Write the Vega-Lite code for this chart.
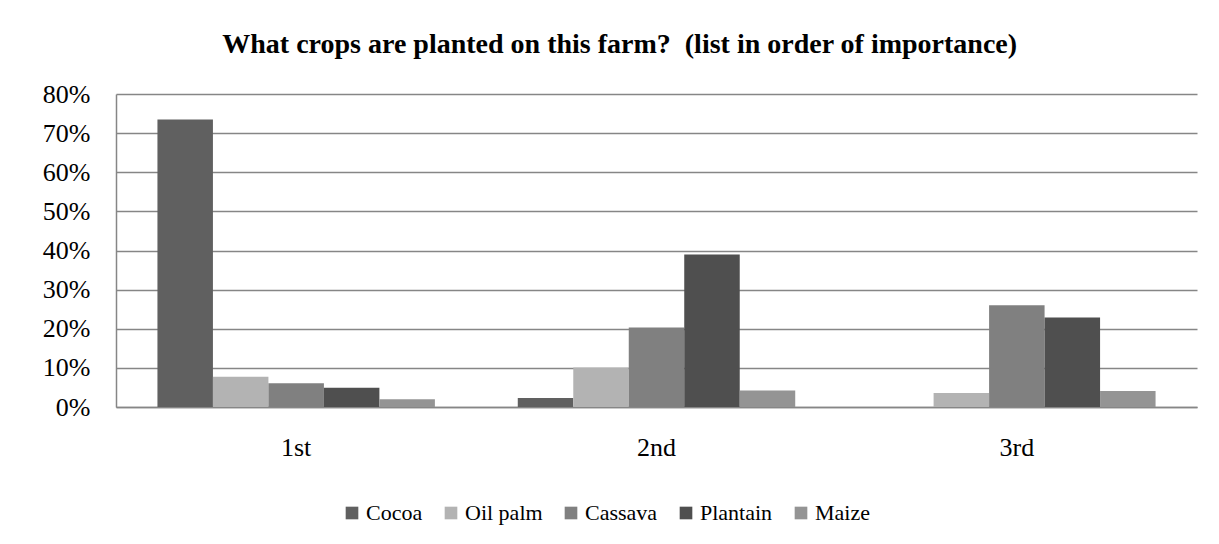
{
  "$schema": "https://vega.github.io/schema/vega-lite/v6.json",
  "width": 1081,
  "height": 313,
  "autosize": "none",
  "padding": {"left": 116, "top": 94, "right": 22, "bottom": 137},
  "background": "white",
  "title": {
    "text": "What crops are planted on this farm?\u00a0 (list in order of importance)",
    "font": "Liberation Serif",
    "fontSize": 28,
    "fontWeight": "bold",
    "color": "black",
    "anchor": "middle",
    "frame": "bounds",
    "offset": 22
  },
  "data": {
    "values": [
      {"rank": "1st", "crop": "Cocoa", "value": 0.735},
      {"rank": "1st", "crop": "Oil palm", "value": 0.077},
      {"rank": "1st", "crop": "Cassava", "value": 0.061},
      {"rank": "1st", "crop": "Plantain", "value": 0.049},
      {"rank": "1st", "crop": "Maize", "value": 0.020},
      {"rank": "2nd", "crop": "Cocoa", "value": 0.023},
      {"rank": "2nd", "crop": "Oil palm", "value": 0.101},
      {"rank": "2nd", "crop": "Cassava", "value": 0.203},
      {"rank": "2nd", "crop": "Plantain", "value": 0.390},
      {"rank": "2nd", "crop": "Maize", "value": 0.042},
      {"rank": "3rd", "crop": "Cocoa", "value": 0.0},
      {"rank": "3rd", "crop": "Oil palm", "value": 0.036},
      {"rank": "3rd", "crop": "Cassava", "value": 0.260},
      {"rank": "3rd", "crop": "Plantain", "value": 0.229},
      {"rank": "3rd", "crop": "Maize", "value": 0.041}
    ]
  },
  "mark": {"type": "bar"},
  "encoding": {
    "x": {
      "field": "rank",
      "type": "nominal",
      "sort": ["1st", "2nd", "3rd"],
      "scale": {"paddingInner": 0.23, "paddingOuter": 0.115},
      "axis": {
        "title": null,
        "labelAngle": 0,
        "labelFont": "Liberation Serif",
        "labelFontSize": 26,
        "labelColor": "black",
        "labelPadding": 27,
        "ticks": false,
        "domainColor": "#868686",
        "domainWidth": 1.5
      }
    },
    "xOffset": {
      "field": "crop",
      "type": "nominal",
      "sort": ["Cocoa", "Oil palm", "Cassava", "Plantain", "Maize"],
      "scale": {"paddingInner": 0, "paddingOuter": 0}
    },
    "y": {
      "field": "value",
      "type": "quantitative",
      "scale": {"domain": [0, 0.8], "nice": false},
      "axis": {
        "title": null,
        "format": ".0%",
        "values": [0, 0.1, 0.2, 0.3, 0.4, 0.5, 0.6, 0.7, 0.8],
        "labelFont": "Liberation Serif",
        "labelFontSize": 26,
        "labelColor": "black",
        "labelPadding": 26,
        "ticks": false,
        "grid": true,
        "gridColor": "#868686",
        "gridWidth": 1.5,
        "domainColor": "#868686",
        "domainWidth": 1.5
      }
    },
    "color": {
      "field": "crop",
      "type": "nominal",
      "sort": ["Cocoa", "Oil palm", "Cassava", "Plantain", "Maize"],
      "scale": {
        "domain": ["Cocoa", "Oil palm", "Cassava", "Plantain", "Maize"],
        "range": ["#606060", "#b3b3b3", "#808080", "#4f4f4f", "#949494"]
      },
      "legend": {
        "title": null,
        "orient": "none",
        "legendX": 225,
        "legendY": 408,
        "direction": "horizontal",
        "symbolType": "square",
        "symbolSize": 160,
        "symbolStrokeWidth": 0,
        "labelFont": "Liberation Serif",
        "labelFontSize": 22,
        "labelColor": "black",
        "labelOffset": 3,
        "columnPadding": 17
      }
    }
  },
  "config": {
    "font": "Liberation Serif",
    "view": {"stroke": null}
  }
}
